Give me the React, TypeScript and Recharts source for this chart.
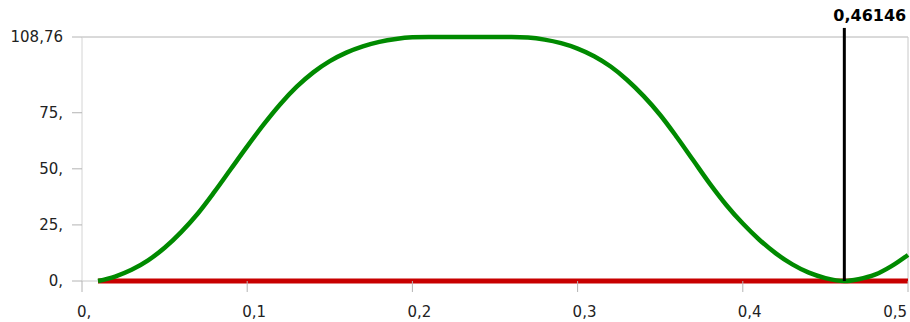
import React from "react";
import { LineChart, Line, XAxis, YAxis, ReferenceLine } from "recharts";

const xValues = [
  0.0097, 0.02, 0.03, 0.04, 0.05, 0.06, 0.07, 0.08, 0.09, 0.1,
  0.11, 0.12, 0.13, 0.14, 0.15, 0.16, 0.17, 0.18, 0.19, 0.2,
  0.21, 0.22, 0.23, 0.24, 0.25, 0.26, 0.27, 0.28, 0.29, 0.3,
  0.31, 0.32, 0.33, 0.34, 0.35, 0.36, 0.37, 0.38, 0.39, 0.4,
  0.41, 0.42, 0.43, 0.44, 0.45, 0.46146, 0.47, 0.48, 0.49, 0.5,
];

const greenValues = [
  0, 2.0, 5.0, 9.2, 14.8, 21.8, 30.0, 39.6, 49.8, 60.0,
  69.8, 78.8, 86.6, 93.0, 98.0, 101.8, 104.6, 106.6, 107.9, 108.6,
  108.76, 108.76, 108.76, 108.76, 108.76, 108.76, 108.5, 107.6, 106.0, 103.6,
  100.2, 95.6, 89.6, 82.4, 74.0, 64.2, 53.8, 43.4, 33.9, 25.6,
  18.4, 12.3, 7.4, 3.7, 1.3, 0, 0.8, 2.8, 6.6, 11.6,
];

const redValues = xValues.map(() => 0);

const xTicks = [0, 0.1, 0.2, 0.3, 0.4, 0.5];
const xTickLabels = ["0,", "0,1", "0,2", "0,3", "0,4", "0,5"];
const yTicks = [0, 25, 50, 75, 108.76];
const yTickLabels = ["0,", "25,", "50,", "75,", "108,76"];

const markerX = 0.46146;
const markerLabel = "0,46146";
const yMax = 108.76;
const firstX = xValues[0];

const data = xValues.map((x, i) => ({ x, green: greenValues[i], red: redValues[i] }));

const FONT = "'DejaVu Sans', Verdana, sans-serif";

const XTick = (props: any) => {
  const { x, y, payload, index } = props;
  const label = xTickLabels[index] ?? String(payload.value);
  const isLast = index === xTicks.length - 1;
  return (
    <text
      x={isLast ? x - 1 : x - 5}
      y={y + 25}
      textAnchor={isLast ? "end" : "start"}
      fontFamily={FONT}
      fontSize={15}
      fill="#222"
    >
      {label}
    </text>
  );
};

const MarkerLabel = (props: any) => {
  const vb = props.viewBox || {};
  return (
    <text
      x={(vb.x ?? 0) - 11}
      y={(vb.y ?? 0) - 7}
      fontFamily={FONT}
      fontSize={16}
      fontWeight="bold"
      fill="#000"
    >
      {markerLabel}
    </text>
  );
};

export default function App() {
  return (
    <div style={{ position: "absolute", left: 0, top: 0, background: "#fff" }}>
      <LineChart
        width={910}
        height={322}
        data={data}
        margin={{ top: 37, right: 2, left: 0, bottom: 0 }}
      >
        <XAxis
          dataKey="x"
          type="number"
          domain={[0, 0.5]}
          ticks={xTicks}
          tick={<XTick />}
          tickSize={11}
          tickMargin={0}
          height={41}
          axisLine={false}
          tickLine={{ stroke: "#b4b4b4" }}
          interval={0}
        />
        <YAxis
          type="number"
          domain={[0, yMax]}
          ticks={yTicks}
          tickFormatter={(v: number) => yTickLabels[yTicks.indexOf(v)] ?? String(v)}
          width={82}
          tickSize={10}
          tickMargin={9}
          interval={0}
          axisLine={{ stroke: "#d4d4d4" }}
          tickLine={{ stroke: "#b4b4b4" }}
          tick={{ fontFamily: FONT, fontSize: 15, fill: "#222" }}
        />
        <ReferenceLine y={yMax} stroke="#b4b4b4" strokeWidth={1} />
        <ReferenceLine x={0.5} stroke="#c8c8c8" strokeWidth={1} />
        <ReferenceLine
          segment={[
            { x: 0, y: 0 },
            { x: firstX, y: 0 },
          ]}
          stroke="#c8c8c8"
          strokeWidth={1}
        />
        <Line
          dataKey="red"
          stroke="#c80000"
          strokeWidth={5}
          dot={false}
          type="linear"
          isAnimationActive={false}
        />
        <Line
          dataKey="green"
          stroke="#008a00"
          strokeWidth={4.5}
          dot={false}
          type="monotone"
          isAnimationActive={false}
        />
        <ReferenceLine
          segment={[
            { x: markerX, y: 0 },
            { x: markerX, y: 112.8 },
          ]}
          ifOverflow="visible"
          stroke="#000"
          strokeWidth={3}
          label={<MarkerLabel />}
        />
      </LineChart>
    </div>
  );
}
